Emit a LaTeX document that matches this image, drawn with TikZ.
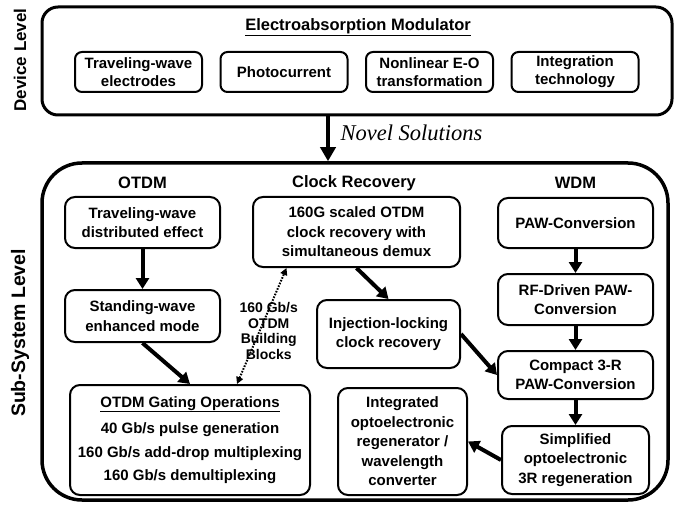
\documentclass[tikz,border=0pt]{standalone}
\usepackage{fontspec}
\setmainfont{Liberation Sans}
\newfontfamily\novelfont{Liberation Serif}
\usepackage{tikz}
\usetikzlibrary{
    arrows.meta,
    positioning,
    calc
}
\tikzset{
  level/.style   = {draw, line width=3pt, inner sep=0pt},
  devblock/.style = {draw, line width=2pt, rounded corners=7pt, minimum width=127pt,
                    minimum height=40pt, align=center,
                    font=\fontsize{15}{18}\selectfont\bfseries},
  subblock/.style = {draw, line width=2pt, rounded corners=10pt, align=center,
                    font=\fontsize{15}{19.5}\selectfont\bfseries},
  head/.style    = {font=\fontsize{16.5}{20}\selectfont\bfseries},
  side/.style    = {rotate=90, font=\fontsize{17}{20}\selectfont\bfseries},
  arr/.style     = {-{Triangle[length=11pt,width=13pt]}, line width=4pt},
  bigarr/.style  = {-{Triangle[length=14pt,width=15pt]}, line width=4.5pt},
  dotarr/.style  = {{Triangle[length=7pt,width=7pt]}-{Triangle[length=7pt,width=7pt]},
                    line width=2pt, dash pattern=on 1.6pt off 1.4pt}
}
\definecolor{PageWhite}{RGB}{255,255,255}

\begin{document}
\begin{tikzpicture}[x=1pt, y=-1pt, node distance=16.5pt]
\path[fill=PageWhite] (0,0) rectangle (677,505);
\useasboundingbox (0,0) rectangle (677,505);

% device level
\node[level, rounded corners=16pt, minimum width=630pt, minimum height=108pt] (devlevel) at (357,61) {};
\node[side] (devlab) at (20,60) {Device Level};
\node[head] (eam) at (358,27) {\underline{Electroabsorption Modulator}};
\node[devblock] (twelec) at (138.5,72) {Traveling-wave\\electrodes};
\node[devblock, right=of twelec] (photo) {Photocurrent};
\node[devblock, right=of photo] (nleo) {Nonlinear E-O\\transformation};
\node[devblock, right=of nleo] (inttech) {Integration\\technology};

% sub-system level
\node[level, line width=3.5pt, rounded corners=40pt, minimum width=626pt, minimum height=337pt] (sublevel) at (355,331.5) {};
\node[side, font=\fontsize{19.5}{22}\selectfont\bfseries] (sublab) at (20,333) {Sub-System Level};

\draw[bigarr] ([xshift=-29pt]devlevel.south)
    -- node[right=7pt, yshift=6pt, font=\novelfont\itshape\fontsize{22.5}{25}\selectfont] (novel) {Novel Solutions}
    ([xshift=-29pt]devlevel.south |- sublevel.north);

\node[head] (otdm) at (142.5,183) {OTDM};
\node[head] (clkrec) at (354,183) {Clock Recovery};
\node[head] (wdm) at (575.5,183) {WDM};

% OTDM column
\node[subblock, minimum width=155pt, minimum height=51pt] (twdist) at (142.5,222.5) {Traveling-wave\\distributed effect};
\node[subblock, minimum width=155pt, minimum height=52pt, below=40pt of twdist] (swmode) {Standing-wave\\enhanced mode};
\node[subblock, minimum width=240pt, minimum height=110pt] (gating) at (190,440)
    {\underline{OTDM Gating Operations}\\[7pt]
     40 Gb/s pulse generation\\[4pt]
     160 Gb/s add-drop multiplexing\\[4pt]
     160 Gb/s demultiplexing};

% clock recovery column
\node[subblock, minimum width=207pt, minimum height=70pt] (cr160) at (356.5,232) {160G scaled OTDM\\clock recovery with\\simultaneous demux};
\node[subblock, minimum width=143pt, minimum height=68pt] (injlock) at (388.5,334) {Injection-locking\\clock recovery};
\node[subblock, minimum width=129pt, minimum height=107pt] (oeregen) at (402.5,441.5) {Integrated\\optoelectronic\\regenerator /\\wavelength\\converter};

% WDM column
\node[subblock, minimum width=155pt, minimum height=50pt] (paw) at (575.5,223) {PAW-Conversion};
\node[subblock, minimum width=155pt, minimum height=51pt, below=24pt of paw] (rfpaw) {RF-Driven PAW-\\Conversion};
\node[subblock, minimum width=155pt, minimum height=48pt, below=24pt of rfpaw] (c3r) {Compact 3-R\\PAW-Conversion};
\node[subblock, minimum width=147pt, minimum height=68pt, below=25pt of c3r] (simp3r) {Simplified\\optoelectronic\\3R regeneration};

\draw[arr] (twdist) -- (swmode);
\draw[arr] (swmode.south) -- (gating.north);
\draw[arr] (cr160.south) -- (injlock.north);
\draw[arr] (injlock.east) -- (c3r.west);
\draw[arr] (paw) -- (rfpaw);
\draw[arr] (rfpaw) -- (c3r);
\draw[arr] (c3r) -- (simp3r);
\draw[arr] (simp3r.west) -- (oeregen.east);
\draw[dotarr] ([xshift=47pt]gating.north)
    -- node[midway, xshift=7pt, yshift=-5pt, align=center, font=\fontsize{14}{15.5}\selectfont\bfseries] (blocks) {160 Gb/s\\OTDM\\Building\\Blocks}
    ([xshift=-70pt]cr160.south);
\end{tikzpicture}
\end{document}
